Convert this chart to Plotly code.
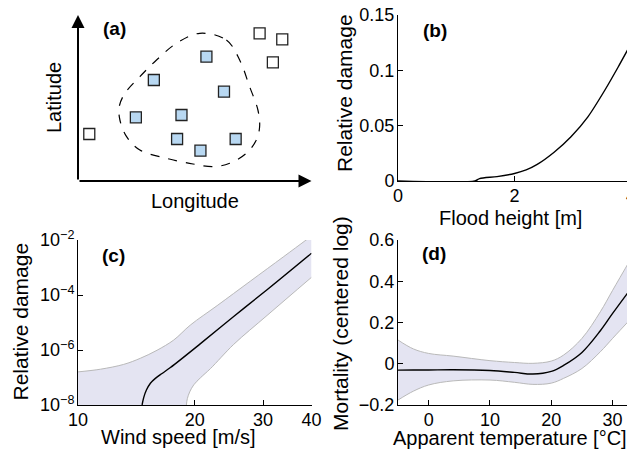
import math
import plotly.graph_objects as go

W, H = 635, 451
OFF = 8  # page body margin of the browser, compensated in pixel placement
FW, FH = W - OFF, H - OFF

# ---------------- Panel (a): schematic (longitude / latitude units) ----------------
open_lon = [11.3, 182.0, 204.7, 195.3]
open_lat = [47.0, 147.7, 141.7, 118.7]
filled_lon = [128.7, 76.0, 146.3, 58.0, 103.7, 99.3, 122.7, 158.0]
filled_lat = [124.3, 101.0, 89.3, 63.7, 66.0, 42.0, 30.3, 42.0]
region_lon = [122.0, 148.7, 162.0, 172.0, 180.3, 182.0, 178.7, 168.7, 152.0, 135.3, 115.3,
              88.7, 62.0, 48.7, 42.0, 41.3, 47.0, 62.0, 78.7, 98.7, 122.0]
region_lat = [147.7, 141.0, 121.0, 94.3, 71.0, 54.3, 41.0, 27.7, 17.7, 14.3, 17.0,
              22.7, 31.0, 44.3, 61.0, 74.3, 87.7, 104.3, 121.0, 137.7, 147.7]
lon_max, lat_max = 234.0, 166.0

# ---------------- Panel (b): flood damage ----------------
flood_height = [0.0, 1.32, 1.4, 1.7, 2.0, 2.2, 2.39, 2.68, 2.97, 3.26, 3.55, 3.78, 4.0]
flood_damage = [0.0, 0.0, 0.0022, 0.004, 0.0068, 0.010, 0.015, 0.026, 0.040, 0.058, 0.082, 0.103, 0.124]

# ---------------- Panel (c): wind damage ----------------
wind_mid_speed = [14.63, 14.77, 15.01, 15.37, 15.83, 16.47, 17.31, 20.69, 25.2, 30.72, 40.0]
wind_mid_dmg = [1.0e-8, 1.86e-8, 3.5e-8, 6.2e-8, 9.3e-8, 1.4e-7, 2.3e-7, 1.7e-6, 1.65e-5, 1.55e-4, 3.3e-3]
wind_up_speed = [10.0, 11.42, 13.12, 14.48, 15.99, 17.65, 19.49, 22.84, 27.83, 33.93, 40.0]
wind_up_dmg = [1.6e-7, 2.0e-7, 3.0e-7, 5.0e-7, 9.8e-7, 2.3e-6, 8.1e-6, 4.1e-5, 3.2e-4, 2.5e-3, 1.4e-2]
wind_lo_speed = [19.03, 19.14, 19.41, 19.88, 20.69, 21.95, 25.2, 30.72, 40.0]
wind_lo_dmg = [1.0e-8, 1.7e-8, 3.0e-8, 5.4e-8, 9.8e-8, 2.1e-7, 1.6e-6, 1.8e-5, 4.4e-4]

# ---------------- Panel (d): temperature mortality ----------------
temp = [-5, -2.5, 0, 4, 10, 14, 17, 20, 22, 25, 28, 30, 33]
mort_mid = [-0.031, -0.030, -0.030, -0.029, -0.033, -0.042, -0.050, -0.037, -0.008, 0.055, 0.160, 0.244, 0.365]
mort_up = [0.115, 0.072, 0.050, 0.037, 0.015, 0.006, 0.002, 0.013, 0.042, 0.123, 0.252, 0.356, 0.510]
mort_lo = [-0.176, -0.133, -0.103, -0.083, -0.079, -0.090, -0.100, -0.094, -0.071, -0.023, 0.058, 0.123, 0.219]

BAND = "#e4e4f2"
EDGE = "#b9b9b9"
SQ_FILL = "#b8d8f2"
FONT = "Liberation Sans, Arial, sans-serif"


def px_x(px):
    return (px - OFF) / FW


def px_y(py):
    return 1 - (py - OFF) / FH


fig = go.Figure()

# (a)
fig.add_trace(go.Scatter(x=region_lon, y=region_lat, mode="lines", line_shape="spline",
                         line=dict(color="black", width=1.2, dash="dash"),
                         xaxis="x", yaxis="y"))
fig.add_trace(go.Scatter(x=open_lon, y=open_lat, mode="markers",
                         marker=dict(symbol="square", size=11, color="white",
                                     line=dict(color="#222", width=1.3)),
                         xaxis="x", yaxis="y"))
fig.add_trace(go.Scatter(x=filled_lon, y=filled_lat, mode="markers",
                         marker=dict(symbol="square", size=11, color=SQ_FILL,
                                     line=dict(color="#222", width=1.3)),
                         xaxis="x", yaxis="y"))

# (b)
fig.add_trace(go.Scatter(x=flood_height, y=flood_damage, mode="lines", line_shape="spline",
                         line=dict(color="black", width=1.4, smoothing=0.8),
                         xaxis="x2", yaxis="y2"))

# (c)
band_x = wind_up_speed + wind_lo_speed[::-1] + [wind_up_speed[0]]
band_y = wind_up_dmg + wind_lo_dmg[::-1] + [wind_lo_dmg[0]]
fig.add_trace(go.Scatter(x=band_x, y=band_y, mode="lines", fill="toself", fillcolor=BAND,
                         line=dict(width=0), xaxis="x3", yaxis="y3"))
fig.add_trace(go.Scatter(x=wind_up_speed, y=wind_up_dmg, mode="lines", line_shape="spline",
                         line=dict(color=EDGE, width=1), xaxis="x3", yaxis="y3"))
fig.add_trace(go.Scatter(x=wind_lo_speed, y=wind_lo_dmg, mode="lines", line_shape="spline",
                         line=dict(color=EDGE, width=1), xaxis="x3", yaxis="y3"))
fig.add_trace(go.Scatter(x=wind_mid_speed, y=wind_mid_dmg, mode="lines", line_shape="spline",
                         line=dict(color="black", width=1.4), xaxis="x3", yaxis="y3"))

# (d)
fig.add_trace(go.Scatter(x=temp, y=mort_lo, mode="lines", line_shape="spline",
                         line=dict(color=EDGE, width=1), xaxis="x4", yaxis="y4"))
fig.add_trace(go.Scatter(x=temp, y=mort_up, mode="lines", line_shape="spline",
                         fill="tonexty", fillcolor=BAND,
                         line=dict(color=EDGE, width=1), xaxis="x4", yaxis="y4"))
fig.add_trace(go.Scatter(x=temp, y=mort_mid, mode="lines", line_shape="spline",
                         line=dict(color="black", width=1.4), xaxis="x4", yaxis="y4"))

# domains (pixel boxes)
top_dom = [px_y(181), px_y(15)]
bot_dom = [px_y(405), px_y(240)]
left_dom = [px_x(78), px_x(311.5)]
right_dom = [px_x(398), px_x(631)]

common = dict(showline=True, linecolor="black", linewidth=1, ticks="inside", ticklen=5,
              tickcolor="black", tickwidth=1, showgrid=False, zeroline=False, automargin=False,
              ticklabeloverflow="allow",
              tickfont=dict(size=18, color="black", family=FONT))
xstand = -2
ystand = -1

fig.update_layout(
    width=FW, height=FH, margin=dict(l=0, r=0, t=0, b=0, autoexpand=False),
    paper_bgcolor="white", plot_bgcolor="white", showlegend=False,
    font=dict(family=FONT, color="black"),
    xaxis=dict(domain=left_dom, range=[0, lon_max], visible=False, fixedrange=True, automargin=False),
    yaxis=dict(domain=top_dom, range=[0, lat_max], visible=False, fixedrange=True, automargin=False),
    xaxis2=dict(domain=right_dom, range=[0, 4], tickvals=[0, 2, 4], anchor="y2",
                ticklabelstandoff=xstand, **common),
    yaxis2=dict(domain=top_dom, range=[0, 0.15], tickvals=[0, 0.05, 0.1, 0.15],
                ticktext=["0", "0.05", "0.1", "0.15"], anchor="x2", ticklabelstandoff=ystand, **common),
    xaxis3=dict(domain=left_dom, type="log", range=[1, math.log10(40)], tickvals=[10, 20, 30, 40],
                anchor="y3", ticklabelstandoff=xstand, **common),
    yaxis3=dict(domain=bot_dom, type="log", range=[-8, -2], tickvals=[1e-8, 1e-6, 1e-4, 1e-2],
                ticktext=["10<sup>\u22128</sup>", "10<sup>\u22126</sup>", "10<sup>\u22124</sup>",
                          "10<sup>\u22122</sup>"], anchor="x3", ticklabelstandoff=ystand, **common),
    xaxis4=dict(domain=right_dom, range=[-5, 33], tickvals=[0, 10, 20, 30], anchor="y4",
                ticklabelstandoff=xstand, **common),
    yaxis4=dict(domain=bot_dom, range=[-0.2, 0.6], tickvals=[-0.2, 0, 0.2, 0.4, 0.6],
                ticktext=["\u22120.2", "0", "0.2", "0.4", "0.6"], anchor="x4",
                ticklabelstandoff=ystand, **common),
)

ann = []
# arrows of panel (a)
ann.append(dict(x=lon_max, y=0, ax=0, ay=0, xref="x", yref="y", axref="x", ayref="y",
                text="", showarrow=True, arrowhead=2, arrowsize=1.3, arrowwidth=2,
                arrowcolor="black", standoff=0))
ann.append(dict(x=0, y=lat_max, ax=0, ay=0, xref="x", yref="y", axref="x", ayref="y",
                text="", showarrow=True, arrowhead=2, arrowsize=1.3, arrowwidth=2,
                arrowcolor="black", standoff=0))


def label(text, cx, cy, size=20, angle=0, bold=False):
    t = f"<b>{text}</b>" if bold else text
    ann.append(dict(text=t, x=px_x(cx), y=px_y(cy), xref="paper", yref="paper",
                    showarrow=False, xanchor="center", yanchor="middle", textangle=angle,
                    font=dict(size=size, family=FONT, color="black")))


label("Latitude", 54, 98, angle=-90)
label("Longitude", 195, 201)
label("Relative damage", 344, 93, size=21, angle=-90)
label("Flood height [m]", 510, 218)
label("Relative damage", 19.5, 322, size=21, angle=-90)
label("Wind speed [m/s]", 178, 437)
label("Mortality (centered log)", 340, 323, size=21, angle=-90)
label("Apparent temperature [°C]", 510, 438)
label("(a)", 114, 29, size=19, bold=True)
label("(b)", 435, 30, size=19, bold=True)
label("(c)", 113, 255, size=19, bold=True)
label("(d)", 434, 254, size=19, bold=True)

fig.update_layout(annotations=ann)
fig.write_html("out.html")
